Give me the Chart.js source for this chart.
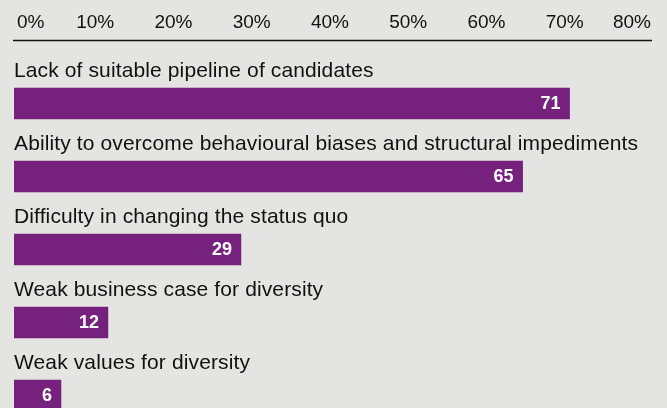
<!DOCTYPE html>
<html>
<head>
<meta charset="utf-8">
<script src="https://cdn.jsdelivr.net/npm/chart.js@4/dist/chart.umd.min.js"></script>
<style>
  html, body { margin: 0; padding: 0; background: #e4e4e3; overflow: hidden; }
  #wrap { width: 667px; height: 408px; overflow: hidden; position: relative; }
  #wrap canvas { display: block; }
</style>
</head>
<body>
<div id="wrap"><canvas id="c" width="667" height="440"></canvas></div>
<script>
// Barriers to diversity — share of respondents (%)
const categories = [
  "Lack of suitable pipeline of candidates",
  "Ability to overcome behavioural biases and structural impediments",
  "Difficulty in changing the status quo",
  "Weak business case for diversity",
  "Weak values for diversity"
];
const shares = [71, 65, 29, 12, 6];
const tickValues = [0, 10, 20, 30, 40, 50, 60, 70, 80];
const tickLabels = tickValues.map(v => v + "%");

const PURPLE = "#77217e";
const INK = "#111111";
const FONT = "'Liberation Sans', Arial, Helvetica, sans-serif";

const labelsPlugin = {
  id: "barLabels",
  afterDatasetsDraw(chart) {
    const ctx = chart.ctx;
    const xs = chart.scales.x;
    const area = chart.chartArea;
    ctx.save();

    // top axis tick labels
    ctx.fillStyle = INK;
    ctx.font = "19px " + FONT;
    ctx.textBaseline = "alphabetic";
    tickValues.forEach((v, i) => {
      const px = xs.getPixelForValue(v) + 3;
      if (i === 0) {
        ctx.textAlign = "left";
        ctx.fillText(tickLabels[i], area.left + 3, 28);
      } else if (i === tickValues.length - 1) {
        ctx.textAlign = "right";
        ctx.fillText(tickLabels[i], area.right + 11, 28);
      } else {
        ctx.textAlign = "center";
        ctx.fillText(tickLabels[i], px, 28);
      }
    });

    // rule under the axis labels
    ctx.strokeStyle = INK;
    ctx.lineWidth = 1.5;
    ctx.beginPath();
    ctx.moveTo(area.left - 1, 40.5);
    ctx.lineTo(area.right + 12, 40.5);
    ctx.stroke();

    // category titles above bars, values inside bar ends
    const meta = chart.getDatasetMeta(0);
    meta.data.forEach((bar, i) => {
      const top = bar.y - bar.height / 2;
      ctx.fillStyle = INK;
      ctx.font = "21px " + FONT;
      ctx.letterSpacing = "0.12px";
      ctx.textAlign = "left";
      ctx.textBaseline = "alphabetic";
      ctx.fillText(categories[i], bar.base, top - 11);

      ctx.letterSpacing = "0px";
      ctx.fillStyle = "#ffffff";
      ctx.font = "bold 18px " + FONT;
      ctx.textAlign = "right";
      ctx.textBaseline = "middle";
      ctx.fillText(String(shares[i]), bar.x - 9, bar.y + 0.5);
    });
    ctx.restore();
  }
};

new Chart(document.getElementById("c"), {
  type: "bar",
  data: {
    labels: categories,
    datasets: [{
      data: shares,
      backgroundColor: PURPLE,
      borderWidth: 0,
      barThickness: 31
    }]
  },
  options: {
    indexAxis: "y",
    responsive: false,
    animation: false,
    layout: { padding: { left: 14, right: 27, top: 67, bottom: 8 } },
    plugins: { legend: { display: false }, tooltip: { enabled: false } },
    scales: {
      x: { min: 0, max: 80, display: false },
      y: { display: false }
    }
  },
  plugins: [labelsPlugin]
});
</script>
</body>
</html>
